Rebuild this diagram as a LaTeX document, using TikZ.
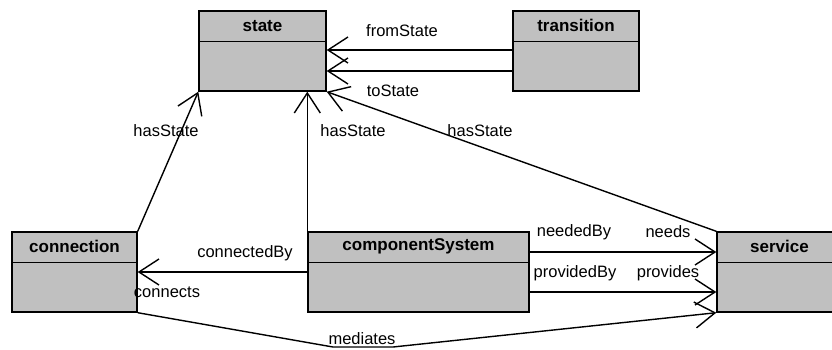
\documentclass[tikz,border=0pt]{standalone}
\usepackage{fontspec}
\setmainfont{Liberation Sans}
\usetikzlibrary{arrows.meta}
\definecolor{clsgray}{RGB}{192,192,192}
\begin{document}
\begin{tikzpicture}[x=1pt,y=-1pt,
  cls/.style={draw=black, fill=clsgray, line width=1.4pt, inner sep=0pt, minimum height=80pt, minimum width=#1},
  hdr/.style={font=\fontsize{17}{19}\selectfont\bfseries, inner sep=0pt},
  lbl/.style={font=\fontsize{16.5}{19}\selectfont, inner sep=0pt},
  conn/.style={line width=1.4pt, -{Straight Barb[length=20pt,width=26pt,line width=1.4pt]}},
  plain/.style={line width=1.4pt}
]
\useasboundingbox (0,0) rectangle (832,349);
\clip (0,0) rectangle (832,349);
\fill[white] (0,0) rectangle (832,349);

% classes
\node[cls=127pt] (state) at (262.5,51) {};
\node[cls=126pt] (transition) at (576,51) {};
\node[cls=125pt] (connection) at (74.5,272) {};
\node[cls=221pt] (compsys) at (418.5,272) {};
\node[cls=125pt] (service) at (779.5,272) {};

\foreach \c in {state,transition,connection,compsys,service}{
  \draw[line width=1.3pt] ([yshift=-31pt]\c.north west) -- ([yshift=-31pt]\c.north east);
}

\node[hdr] (hstate) at ([yshift=-15.5pt]state.north) {state};
\node[hdr] (htrans) at ([yshift=-15.5pt]transition.north) {transition};
\node[hdr] (hconn) at ([yshift=-15.5pt]connection.north) {connection};
\node[hdr] (hcomp) at ([yshift=-15.5pt]compsys.north) {componentSystem};
\node[hdr] (hserv) at ([yshift=-15.5pt]service.north) {service};

% connectors
\draw[conn] ([yshift=1pt]transition.west) -- ([yshift=1pt]state.east);
\draw[conn] ([yshift=-20pt]transition.west) -- ([yshift=-20pt]state.east);
\draw[conn] (connection.north east) -- (state.south west);
\draw[conn] (compsys.north west) -- (compsys.north west |- state.south);
\draw[conn] (service.north west) -- (state.south east);
\draw[conn] (compsys.west) -- (connection.east);
\draw[conn] ([yshift=20pt]compsys.east) -- ([yshift=20pt]service.west);
\draw[conn] ([yshift=-20pt]compsys.east) -- ([yshift=-20pt]service.west);
\coordinate (m1) at (333,347);
\coordinate (m2) at (393,347);
\draw[conn] (connection.south east) -- (m1) -- (m2) -- (service.south west);

% labels
\node[lbl] (lfrom) at (402,31) {fromState};
\node[lbl] (lto) at (393,91) {toState};
\node[lbl] (lhs1) at (166,131) {hasState};
\node[lbl] (lhs2) at (353,131) {hasState};
\node[lbl] (lhs3) at (480,131) {hasState};
\node[lbl] (lcby) at (245,253) {connectedBy};
\node[lbl] (lcon) at (167,292) {connects};
\node[lbl] (lnby) at (574,232) {neededBy};
\node[lbl] (lneeds) at (668,232) {needs};
\node[lbl] (lpby) at (575,273) {providedBy};
\node[lbl] (lprov) at (668,273) {provides};
\node[lbl] (lmed) at (362,339) {mediates};
\end{tikzpicture}
\end{document}
